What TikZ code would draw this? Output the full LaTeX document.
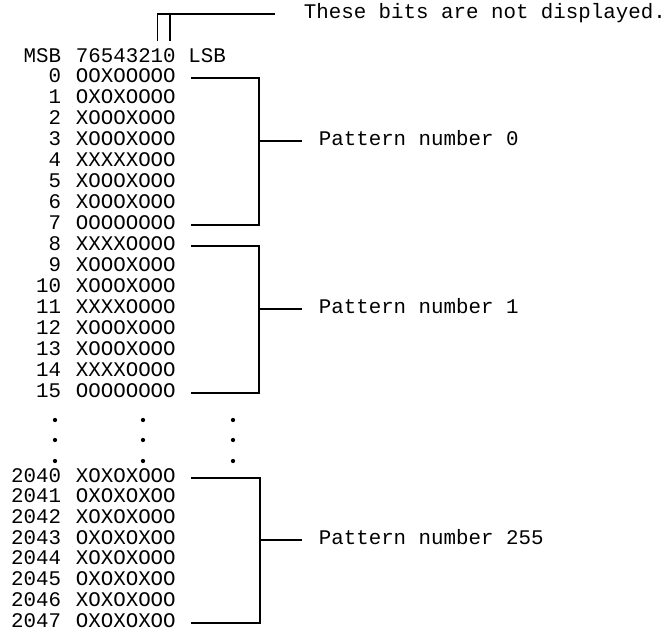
\documentclass[tikz,border=0pt]{standalone}
\usepackage{fontspec}
\setmonofont{Liberation Mono}
\usetikzlibrary{calc}

\begin{document}
\begin{tikzpicture}[x=0.75pt, y=-0.75pt, line width=1.3pt,
    font=\ttfamily\fontsize{15.6}{18}\selectfont,
    num/.style={anchor=east, inner sep=0pt, text height=0.62em, text depth=0pt},
    bits/.style={anchor=west, inner sep=0pt, text height=0.62em, text depth=0pt},
    lbl/.style={anchor=west, inner sep=0pt, text height=0.62em, text depth=0pt}]
  \useasboundingbox (0,0) rectangle (668,637);

  % header line and the two hidden bits
  \node[num] (msb) at (62,58) {MSB};
  \node[bits] (hdr) at (75,58) {76543210};
  \node[bits] (lsb) at (187.5,58) {LSB};
  \node[lbl] (note) at (303,14) {These bits are not displayed.};
  \coordinate (b1) at ($(hdr.north west)!0.8125!(hdr.north east)+(0,-12)$);
  \coordinate (b0) at ($(hdr.north west)!0.9375!(hdr.north east)+(0,-12)$);
  \draw (b1) |- ([xshift=-21pt]note.west);
  \draw (b0) -- (b0 |- note.west);

  % pattern 0
  \foreach \n/\row [count=\i from 0] in {0/OOXOOOOO, 1/OXOXOOOO, 2/XOOOXOOO, 3/XOOOXOOO,
      4/XXXXXOOO, 5/XOOOXOOO, 6/XOOOXOOO, 7/OOOOOOOO} {
    \node[num] (n\n) at (62,{78+21*\i}) {\n};
    \node[bits] (p\n) at (75,{78+21*\i}) {\row};
  }
  % pattern 1
  \foreach \n/\row [count=\i from 0] in {8/XXXXOOOO, 9/XOOOXOOO, 10/XOOOXOOO, 11/XXXXOOOO,
      12/XOOOXOOO, 13/XOOOXOOO, 14/XXXXOOOO, 15/OOOOOOOO} {
    \node[num] (n\n) at (62,{246+21*\i}) {\n};
    \node[bits] (p\n) at (75,{246+21*\i}) {\row};
  }
  % pattern 255
  \foreach \n/\row [count=\i from 0] in {2040/XOXOXOOO, 2041/OXOXOXOO, 2042/XOXOXOOO, 2043/OXOXOXOO,
      2044/XOXOXOOO, 2045/OXOXOXOO, 2046/XOXOXOOO, 2047/OXOXOXOO} {
    \node[num] (n\n) at (62,{478+20.7*\i}) {\n};
    \node[bits] (p\n) at (75,{478+20.7*\i}) {\row};
  }

  % dots between the groups
  \foreach \y in {420,440,461}
    \foreach \x in {55,143,233}
      \fill (\x,\y) circle (1.6pt);

  % brackets
  \coordinate (j0) at (259,141);
  \coordinate (j1) at (259,309);
  \coordinate (j2) at (260,540);
  \node[lbl] (l0) at (318,141) {Pattern number 0};
  \node[lbl] (l1) at (318,309) {Pattern number 1};
  \node[lbl] (l2) at (318,540) {Pattern number 255};
  \draw ([xshift=11pt]p0.east) -| (j0) |- ([xshift=11pt]p7.east);
  \draw (j0) -- ([xshift=-12pt]l0.west);
  \draw ([xshift=11pt]p8.east) -| (j1) |- ([xshift=11pt]p15.east);
  \draw (j1) -- ([xshift=-12pt]l1.west);
  \draw ([xshift=11pt]p2040.east) -| (j2) |- ([xshift=11pt]p2047.east);
  \draw (j2) -- ([xshift=-12pt]l2.west);
\end{tikzpicture}
\end{document}
